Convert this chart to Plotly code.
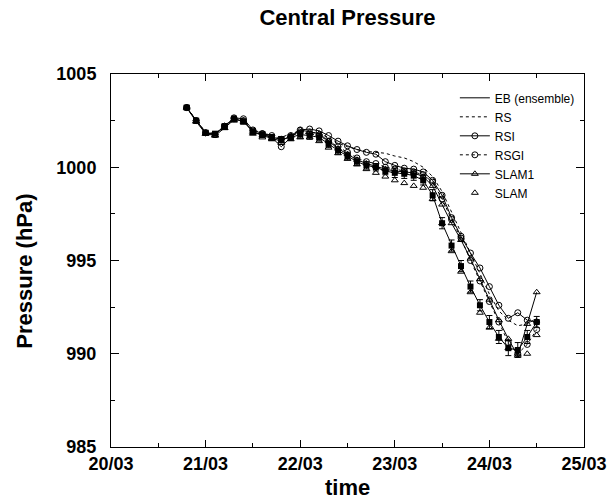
import plotly.graph_objects as go

# time in days since 20/03 00Z
t = [0.8, 0.9, 1.0, 1.1, 1.2, 1.3, 1.4, 1.5, 1.6, 1.7, 1.8, 1.9, 2.0, 2.1, 2.2, 2.3, 2.4, 2.5, 2.6,
     2.7, 2.8, 2.9, 3.0, 3.1, 3.2, 3.3, 3.4, 3.5, 3.6, 3.7, 3.8, 3.9, 4.0, 4.1, 4.2, 4.3, 4.4, 4.5]

eb = [1003.2, 1002.5, 1001.85, 1001.8, 1002.2, 1002.6, 1002.45, 1001.9, 1001.75, 1001.6, 1001.5,
      1001.6, 1001.75, 1001.7, 1001.6, 1001.25, 1000.9, 1000.6, 1000.3, 1000.1, 1000.0, 999.8,
      999.7, 999.65, 999.55, 999.3, 998.5, 997.0, 995.8, 994.7, 993.6, 992.6, 991.7, 990.9,
      990.3, 990.2, 990.9, 991.7]
eb_err = [0.1, 0.1, 0.1, 0.1, 0.1, 0.1, 0.1, 0.15, 0.15, 0.15, 0.15, 0.15, 0.2, 0.2, 0.2, 0.2,
          0.2, 0.2, 0.2, 0.2, 0.2, 0.2, 0.25, 0.25, 0.25, 0.25, 0.3, 0.3, 0.3, 0.3, 0.3, 0.3,
          0.35, 0.35, 0.4, 0.4, 0.35, 0.3]
rs = [1003.2, 1002.5, 1001.9, 1001.8, 1002.25, 1002.6, 1002.55, 1002.0, 1001.85, 1001.7, 1001.6,
      1001.8, 1001.95, 1001.9, 1001.8, 1001.6, 1001.3, 1001.1, 1000.95, 1000.85, 1000.8, 1000.75,
      1000.6, 1000.5, 1000.3, 1000.0, 999.5, 998.7, 997.6, 996.5, 995.4, 994.3, 993.2, 992.3,
      991.8, 991.5, 991.6, 991.9]
rsi = [1003.2, 1002.5, 1001.85, 1001.75, 1002.2, 1002.65, 1002.6, 1002.0, 1001.8, 1001.6, 1001.1,
       1001.6, 1002.0, 1002.05, 1001.95, 1001.7, 1001.4, 1001.15, 1000.95, 1000.8, 1000.7, 1000.3,
       1000.1, 999.95, 999.9, 999.75, 999.3, 998.5, 997.3, 996.3, 995.4, 994.6, 993.6, 992.6,
       991.9, 992.2, 991.8, 991.7]
rsgi = [1003.2, 1002.5, 1001.85, 1001.75, 1002.2, 1002.6, 1002.5, 1001.95, 1001.8, 1001.7, 1001.5,
        1001.7, 1001.85, 1001.8, 1001.7, 1001.4, 1001.1, 1000.8, 1000.5, 1000.3, 1000.2, 1000.0,
        999.9, 999.8, 999.75, 999.6, 999.2, 998.3, 997.2, 996.2, 995.0, 993.9, 992.8, 991.7,
        990.6, 990.0, 990.5, 991.3]
slam1 = [1003.2, 1002.45, 1001.8, 1001.7, 1002.1, 1002.55, 1002.5, 1001.9, 1001.7, 1001.55, 1001.4,
         1001.7, 1002.0, 1001.9, 1001.8, 1001.4, 1001.0, 1000.7, 1000.4, 1000.2, 1000.05, 999.9,
         999.8, 999.75, 999.7, 999.5, 999.0, 998.0, 997.0, 996.1, 995.1, 994.0, 992.9, 991.8,
         990.8, 989.9, 991.6, 993.3]
slam = [1003.2, 1002.45, 1001.8, 1001.7, 1002.1, 1002.5, 1002.4, 1001.8, 1001.6, 1001.5, 1001.3,
        1001.5, 1001.6, 1001.6, 1001.4, 1001.05, 1000.75, 1000.45, 1000.15, 999.9, 999.7, 999.5,
        999.3, 999.15, 999.0, 998.9, 998.3, 997.0, 995.5, 994.4, 993.3, 992.2, 991.4, 990.8,
        990.3, 990.0, 990.0, 991.0]

tick_vals = [0, 1, 2, 3, 4, 5]
tick_text = ["20/03", "21/03", "22/03", "23/03", "24/03", "25/03"]

FONT = "Liberation Sans"
fig = go.Figure()

fig.add_trace(go.Scatter(x=t, y=eb, mode="lines", name="EB (ensemble)",
                         line=dict(color="black", width=1)))
fig.add_trace(go.Scatter(x=t, y=rs, mode="lines", name="RS",
                         line=dict(color="black", width=1, dash="dot")))
fig.add_trace(go.Scatter(x=t, y=rsi, mode="lines+markers", name="RSI",
                         line=dict(color="black", width=1),
                         marker=dict(symbol="circle-open", size=6, color="black", line=dict(width=1))))
fig.add_trace(go.Scatter(x=t, y=rsgi, mode="lines+markers", name="RSGI",
                         line=dict(color="black", width=1, dash="dot"),
                         marker=dict(symbol="circle-open", size=6, color="black", line=dict(width=1))))
fig.add_trace(go.Scatter(x=t, y=slam1, mode="lines+markers", name="SLAM1",
                         line=dict(color="black", width=1),
                         marker=dict(symbol="triangle-up-open", size=6, color="black", line=dict(width=1))))
fig.add_trace(go.Scatter(x=t, y=slam, mode="markers", name="SLAM",
                         marker=dict(symbol="triangle-up-open", size=6, color="black", line=dict(width=1))))
fig.add_trace(go.Scatter(x=t, y=eb, mode="markers", showlegend=False,
                         marker=dict(symbol="square", size=6, color="black"),
                         error_y=dict(type="data", array=eb_err, color="black", thickness=1, width=3)))

PW = 610 - 111 - 26
PH = 501 - 74 - 54
fig.update_layout(
    width=610, height=501,
    margin=dict(l=111, r=26, t=74, b=54, autoexpand=False),
    paper_bgcolor="white", plot_bgcolor="white",
    font=dict(family=FONT, color="black"),
    title=dict(text="<b>Central Pressure</b>", x=0.5, xref="paper", xanchor="center",
               y=1 - 17 / 501, yanchor="middle", font=dict(size=22, family=FONT)),
    showlegend=True,
    legend=dict(x=0.727, y=0.975, xanchor="left", yanchor="top", bgcolor="rgba(0,0,0,0)",
                font=dict(size=12, family=FONT), tracegroupgap=0, itemwidth=30),
    annotations=[
        dict(text="<b>Pressure (hPa)</b>", textangle=-90, xref="paper", yref="paper",
             x=-86 / PW, y=0.47, xanchor="center", yanchor="middle", showarrow=False,
             font=dict(size=22, family=FONT)),
        dict(text="<b>time</b>", xref="paper", yref="paper",
             x=0.5, y=-(487 - 447) / PH, xanchor="center", yanchor="middle", showarrow=False,
             font=dict(size=22, family=FONT)),
    ],
)
fig.update_xaxes(range=[0, 5], tickmode="array", tickvals=tick_vals, ticktext=tick_text,
                 ticks="inside", ticklen=7, tickwidth=1, tickcolor="black",
                 minor=dict(tick0=0, dtick=0.5, ticks="inside", ticklen=4, tickcolor="black"),
                 showline=True, linecolor="black", linewidth=1, mirror="allticks",
                 showgrid=False, zeroline=False, automargin=False,
                 tickfont=dict(size=18, family=FONT, weight="bold"))
fig.update_yaxes(range=[985, 1005], tickmode="linear", tick0=985, dtick=5,
                 ticks="inside", ticklen=8, tickwidth=1, tickcolor="black",
                 minor=dict(tick0=985, dtick=2.5, ticks="inside", ticklen=4, tickcolor="black"),
                 showline=True, linecolor="black", linewidth=1, mirror="allticks",
                 showgrid=False, zeroline=False, ticklabelstandoff=10, automargin=False,
                 tickfont=dict(size=18, family=FONT, weight="bold"))

fig.write_html("out.html")
